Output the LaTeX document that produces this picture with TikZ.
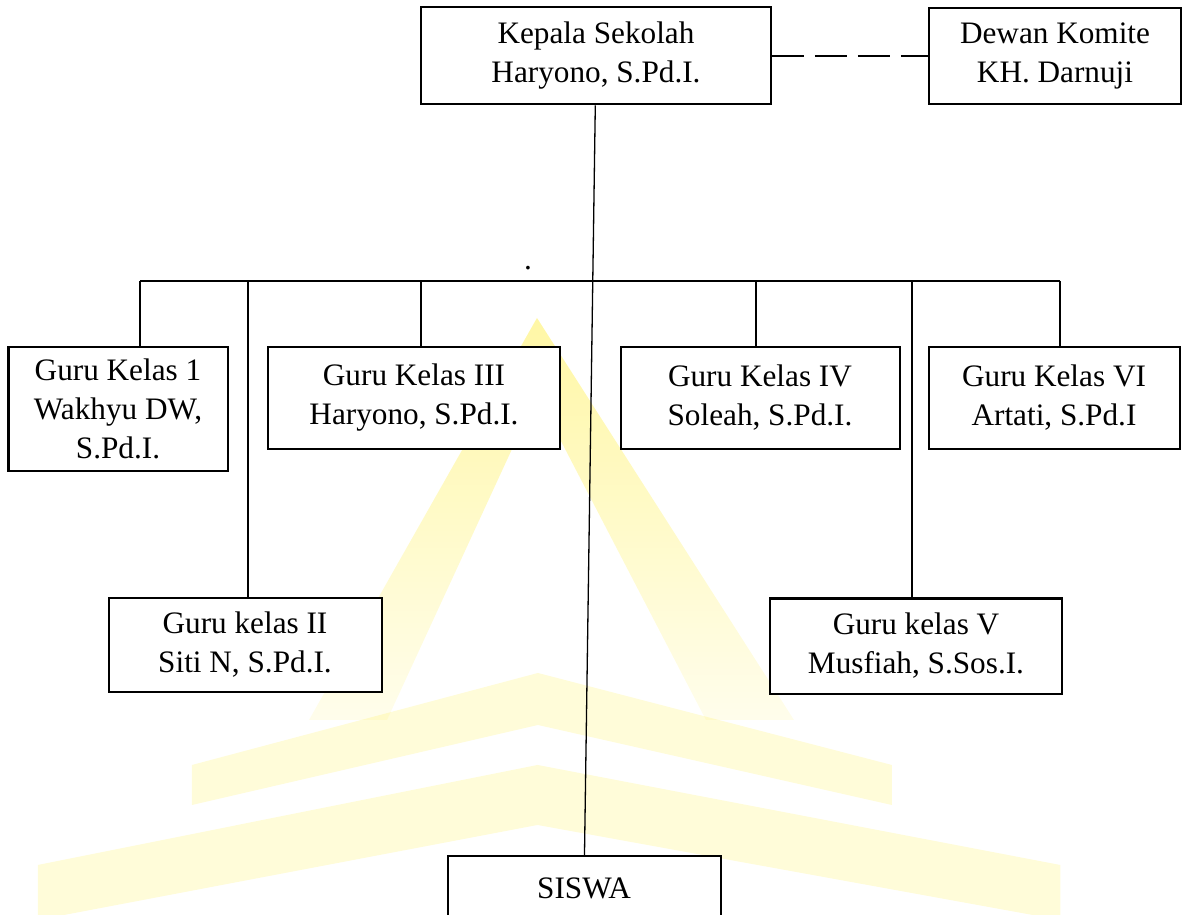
\documentclass[tikz,border=0pt]{standalone}
\usepackage{fontspec}
\setmainfont{Liberation Serif}
\usetikzlibrary{graphs}
\usetikzlibrary{fadings}

\tikzfading[name=fade sides, left color=transparent!70, middle color=transparent!15, right color=transparent!70]
\tikzfading[name=fade down, top color=transparent!30, bottom color=transparent!85]

\begin{document}
\begin{tikzpicture} [x=0.0135cm, y=-0.0135cm,
            every node/.style={font=\fontsize{12}{15}\selectfont},
            box/.style 2 args={draw, fill=white, line width=0.77pt, align=center, inner sep=0pt,
                minimum width=#1*0.0135cm, minimum height=#2*0.0135cm},
            link/.style={line width=0.5pt},
            mark yellow/.style={fill={rgb,255:red,255;green,232;blue,0}, fill opacity=0.5}]
            \useasboundingbox (0,0) rectangle (1192,915);

            \fill[mark yellow, path fading=fade down]
                (537,318) -- (794,720) -- (706,720) -- (537,395) -- (387,720) -- (309,720) -- cycle;
            \fill[mark yellow, path fading=fade sides]
                (192,765) -- (538,673) -- (892,765) -- (892,805) -- (538,725) -- (192,805) -- cycle;
            \fill[mark yellow, path fading=fade sides]
                (38,865) -- (538,765) -- (1061,865) -- (1061,920) -- (538,825) -- (38,920) -- cycle;

            \node[box={350}{97}] (kepala) at (596,56) {Kepala Sekolah\\Haryono, S.Pd.I.};
            \node[box={252}{96}] (dewan) at (1055,56) {Dewan Komite\\KH. Darnuji};
            \node[box={219}{124}] (k1) at (118,409) {Guru Kelas 1\\Wakhyu DW,\\S.Pd.I.};
            \node[box={292}{102}] (k3) at (414,398) {Guru Kelas III\\Haryono, S.Pd.I.};
            \node[box={279}{102}] (k4) at (760,398) {Guru Kelas IV\\Soleah, S.Pd.I.};
            \node[box={251}{102}] (k6) at (1054,398) {Guru Kelas VI\\Artati, S.Pd.I};
            \node[box={273}{94}] (k2) at (245,645) {Guru kelas II\\Siti N, S.Pd.I.};
            \node[box={292}{95}] (k5) at (916,646) {Guru kelas V\\Musfiah, S.Sos.I.};
            \node[box={273}{64}] (siswa) at (584,888) {SISWA};
            \node[inner sep=0pt] (titik) at (528,268) {.};

            \foreach \n/\x in {j1/140, j2/248, j3/421, j4/756, j5/912, j6/1060}
                \coordinate (\n) at (\x,281);

            \graph[edges={link}] {
                (kepala) -- (siswa);
            };
            \graph[edges={line width=0.65pt, dash pattern=on 12.3pt off 4.2pt}] {
                (kepala) -- (dewan);
            };
            \draw[link] (j1) -- (j6);
            \foreach \j/\k in {j1/k1, j2/k2, j3/k3, j4/k4, j5/k5, j6/k6}
                \draw[link] (\j) -- (\j |- \k.north);
        \end{tikzpicture}
\end{document}
